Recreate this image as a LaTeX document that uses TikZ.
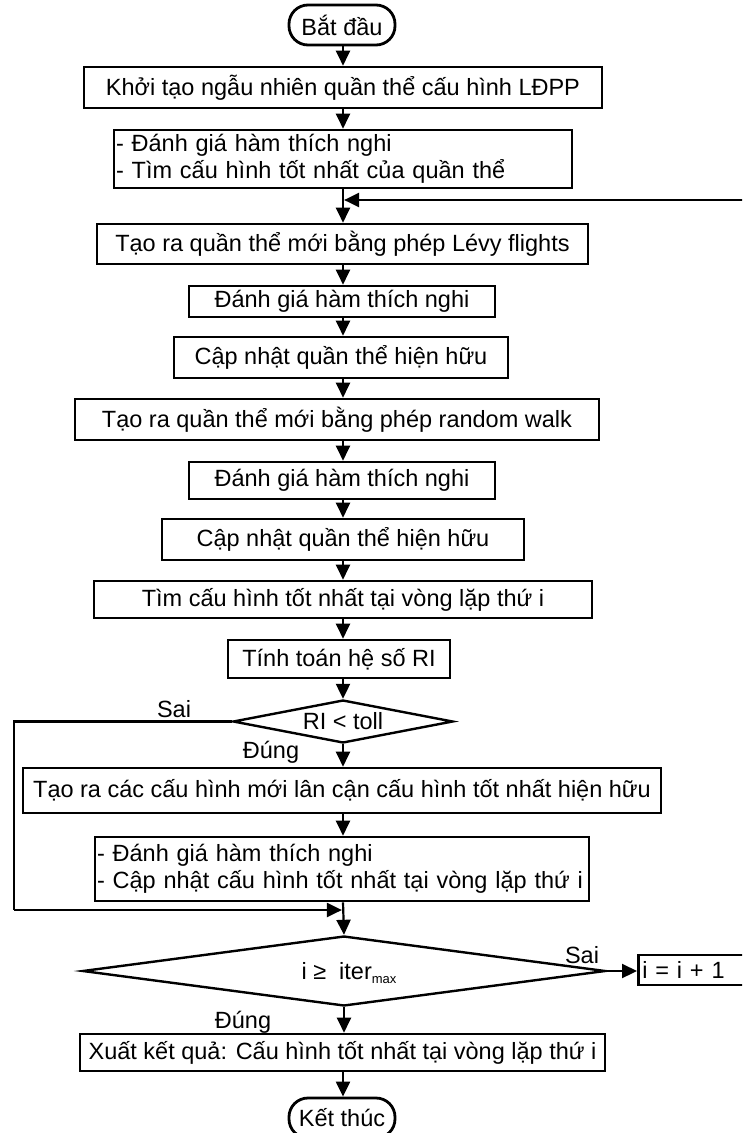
\documentclass[tikz,border=0pt]{standalone}
\usepackage{fontspec}
\setmainfont{Liberation Sans}
\usetikzlibrary{arrows.meta,shapes.geometric}
\begin{document}
\begin{tikzpicture}[x=1pt,y=1pt,
 every node/.style={font=\fontsize{23.5}{27}\selectfont},
 box/.style={draw, line width=2.6pt, inner sep=0pt, align=center},
 mbox/.style={draw, line width=2.6pt, inner xsep=2pt, inner ysep=0pt, align=left},
 term/.style={draw, line width=2.8pt, rounded corners=19pt, inner sep=0pt},
 dec/.style={draw, shape=diamond, line width=2.4pt, inner sep=0pt},
 lbl/.style={inner sep=0pt},
 conn/.style={line width=2.2pt, -{Triangle[length=15pt,width=14pt]}},
 wire/.style={line width=2.2pt},
]
\clip (0,0) rectangle (742,-1133);
\coordinate (ax) at (343,0);
\node[term, minimum width=106pt, minimum height=40pt] (start) at (342,-25) {Bắt đầu};
\node[box, minimum width=518pt, minimum height=41pt] (init) at (343,-87.5) {Khởi tạo ngẫu nhiên quần thể cấu hình LĐPP};
\node[mbox, text width=454pt, minimum height=58pt] (eval1) at (343,-159) {- Đánh giá hàm thích nghi\\- Tìm cấu hình tốt nhất của quần thể};
\coordinate (J1) at (343,-200);
\coordinate (R1) at (760,-200);
\node[box, minimum width=491pt, minimum height=40pt] (levy) at (342.5,-244) {Tạo ra quần thể mới bằng phép Lévy flights};
\node[box, minimum width=306pt, minimum height=31pt] (eval2) at (342,-301.5) {Đánh giá hàm thích nghi};
\node[box, minimum width=334pt, minimum height=41pt] (upd1) at (341,-357.5) {Cập nhật quần thể hiện hữu};
\node[box, minimum width=524pt, minimum height=41pt] (rw) at (337,-419.5) {Tạo ra quần thể mới bằng phép random walk};
\node[box, minimum width=306pt, minimum height=37pt] (eval3) at (342,-480.5) {Đánh giá hàm thích nghi};
\node[box, minimum width=362pt, minimum height=41pt] (upd2) at (343,-539.5) {Cập nhật quần thể hiện hữu};
\node[box, minimum width=498pt, minimum height=37pt] (best) at (343,-599.5) {Tìm cấu hình tốt nhất tại vòng lặp thứ i};
\node[box, minimum width=222pt, minimum height=38pt] (ri) at (339,-659) {Tính toán hệ số RI};
\node[dec, minimum width=220pt, minimum height=43pt] (d1) at (343,-721.5) {\smash{\makebox[0pt]{\raisebox{-0.36em}{RI < toll}}}};
\node[box, minimum width=638pt, minimum height=45pt] (neigh) at (342,-790.5) {Tạo ra các cấu hình mới lân cận cấu hình tốt nhất hiện hữu};
\node[mbox, text width=490pt, minimum height=64pt] (eval4) at (342,-869) {- Đánh giá hàm thích nghi\\- Cập nhật cấu hình tốt nhất tại vòng lặp thứ i};
\coordinate (J2) at (343,-910);
\coordinate (L1) at (14,-721.5);
\coordinate (L2) at (14,-910);
\node[dec, minimum width=523pt, minimum height=70pt] (d2) at (344,-971) {\smash{\makebox[0pt]{\raisebox{-0.36em}{\hspace*{10pt}i ≥\ \ iter\raisebox{-0.35ex}{\fontsize{13}{13}\selectfont max}}}}};
\node[box, anchor=west, minimum height=30pt, text width=122pt, inner xsep=4pt, align=left] (inc) at (637,-970) {i = i + 1};
\node[box, minimum width=525pt, minimum height=37pt] (out) at (342.5,-1052.5) {Xuất kết quả: Cấu hình tốt nhất tại vòng lặp thứ i};
\node[term, minimum width=106pt, minimum height=40pt] (end) at (342,-1118) {Kết thúc};
\node[lbl] (sai1) at (174,-709) {Sai};
\node[lbl] (dung1) at (271,-752) {Đúng};
\node[lbl] (sai2) at (582,-955) {Sai};
\node[lbl] (dung2) at (243,-1022) {Đúng};
% connectors
\draw[conn] (start.south -| ax) -- (init.north -| ax);
\draw[conn] (init.south -| ax) -- (eval1.north -| ax);
\draw[conn] (eval1.south -| ax) -- (levy.north -| ax);
\draw[conn, shorten >=1.1pt] (R1) -- (J1);
\draw[conn] (levy.south -| ax) -- (eval2.north -| ax);
\draw[conn] (eval2.south -| ax) -- (upd1.north -| ax);
\draw[conn] (upd1.south -| ax) -- (rw.north -| ax);
\draw[conn] (rw.south -| ax) -- (eval3.north -| ax);
\draw[conn] (eval3.south -| ax) -- (upd2.north -| ax);
\draw[conn] (upd2.south -| ax) -- (best.north -| ax);
\draw[conn] (best.south -| ax) -- (ri.north -| ax);
\draw[conn] (ri.south -| ax) -- (d1.north);
\draw[conn] (d1.south) -- (neigh.north -| ax);
\draw[wire] (d1.west) -- (L1) -- (L2);
\draw[conn, shorten >=1.1pt] (L2) -- (J2);
\draw[conn] (neigh.south -| ax) -- (eval4.north -| ax);
\draw[conn] (eval4.south -| ax) -- (d2.north);
\draw[conn] (d2.east) -- (d2.east -| inc.west);
\draw[conn] (d2.south) -- (out.north -| d2.south);
\draw[conn] (out.south -| ax) -- (end.north -| ax);
\end{tikzpicture}
\end{document}
